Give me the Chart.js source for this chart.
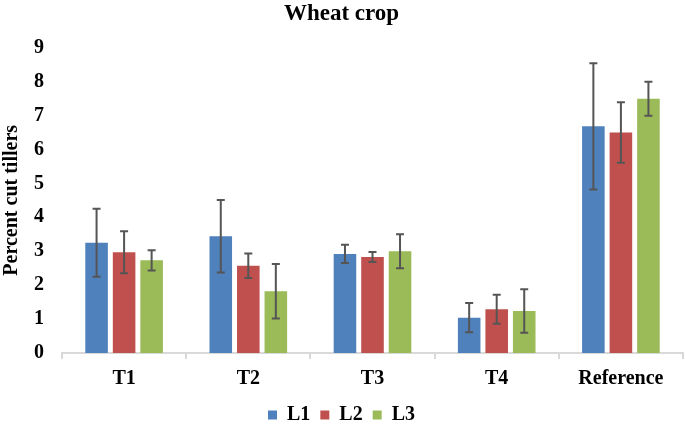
<!DOCTYPE html>
<html>
<head>
<meta charset="utf-8">
<script src="https://cdn.jsdelivr.net/npm/chart.js@4.4.0/dist/chart.umd.min.js"></script>
<style>
  html, body { margin: 0; padding: 0; background: #fff; }
  #wrap { width: 685px; height: 427px; }
</style>
</head>
<body>
<div id="wrap"><canvas id="myChart"></canvas></div>
<script>
const categories = ["T1", "T2", "T3", "T4", "Reference"];
const yTicks = [0, 1, 2, 3, 4, 5, 6, 7, 8, 9];

const L1 = [3.25, 3.44, 2.92, 1.04, 6.68];
const L2 = [2.97, 2.57, 2.83, 1.29, 6.50];
const L3 = [2.73, 1.82, 3.00, 1.24, 7.49];

const L1err = [1.00, 1.07, 0.27, 0.43, 1.86];
const L2err = [0.62, 0.36, 0.15, 0.43, 0.89];
const L3err = [0.30, 0.80, 0.50, 0.64, 0.50];

const serif = "'Liberation Serif', 'Times New Roman', serif";

// error bars drawn from the y scale
const errorBars = {
  id: 'errorBars',
  afterDatasetsDraw(chart) {
    const ctx = chart.ctx;
    const y = chart.scales.y;
    ctx.save();
    ctx.strokeStyle = '#555555';
    ctx.lineWidth = 2;
    chart.data.datasets.forEach((ds, i) => {
      const meta = chart.getDatasetMeta(i);
      meta.data.forEach((bar, j) => {
        const v = ds.data[j];
        const e = ds.errors[j];
        const top = y.getPixelForValue(v + e);
        const bot = y.getPixelForValue(v - e);
        const cap = 4;
        ctx.beginPath();
        ctx.moveTo(bar.x, top); ctx.lineTo(bar.x, bot);
        ctx.moveTo(bar.x - cap, top); ctx.lineTo(bar.x + cap, top);
        ctx.moveTo(bar.x - cap, bot); ctx.lineTo(bar.x + cap, bot);
        ctx.stroke();
      });
    });
    ctx.restore();
  }
};

const ctx = document.getElementById('myChart').getContext('2d');

const data = {
  labels: categories,
  datasets: [
    { label: "L1", data: L1, errors: L1err, backgroundColor: "#4F81BD" },
    { label: "L2", data: L2, errors: L2err, backgroundColor: "#C0504D" },
    { label: "L3", data: L3, errors: L3err, backgroundColor: "#9BBB59" }
  ]
};

const config = {
  type: "bar",
  data: data,
  options: {
    responsive: true,
    maintainAspectRatio: false,
    animation: false,
    categoryPercentage: 0.665,
    barPercentage: 0.82,
    // legend pushed a bit below the canvas edge so its text sits low like the original
    layout: { padding: { left: 0, right: 2, top: 0, bottom: -8 } },
    plugins: {
      title: {
        display: true,
        text: "Wheat crop",
        color: "#000",
        font: { family: serif, size: 23, weight: "bold" },
        padding: { top: 0, bottom: 20 }
      },
      legend: {
        position: "bottom",
        labels: {
          color: "#000",
          font: { family: serif, size: 20, weight: "bold" },
          boxWidth: 9,
          boxHeight: 9,
          padding: 10
        }
      },
      tooltip: { enabled: false }
    },
    scales: {
      x: {
        grid: {
          display: true,
          drawOnChartArea: false,
          drawTicks: true,
          tickLength: 6,
          color: "#D9D9D9",
          lineWidth: 2,
          offset: true
        },
        border: { display: true, color: "#D9D9D9", width: 2 },
        ticks: {
          color: "#000",
          font: { family: serif, size: 20, weight: "bold" },
          padding: 8
        },
        afterFit: (s) => { s.height = 42; }
      },
      y: {
        min: 0,
        max: 9,
        afterBuildTicks: (s) => { s.ticks = yTicks.map(v => ({ value: v })); },
        grid: { display: false, drawTicks: false },
        border: { display: false },
        ticks: {
          color: "#000",
          font: { family: serif, size: 20, weight: "bold" },
          padding: 18
        },
        title: {
          display: true,
          text: "Percent cut tillers",
          color: "#000",
          font: { family: serif, size: 20, weight: "bold" },
          padding: { top: 0, bottom: 0 }
        },
        afterFit: (s) => { s.width = 62; }
      }
    }
  },
  plugins: [errorBars]
};

const myChart = new Chart(ctx, config);
</script>
</body>
</html>
